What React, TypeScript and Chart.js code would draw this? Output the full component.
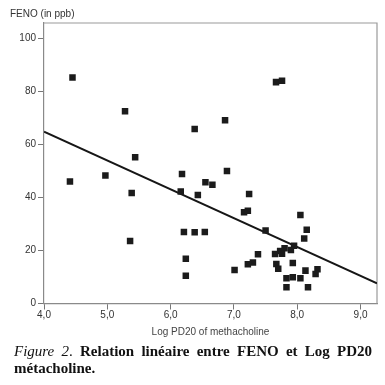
import React, { useEffect, useRef } from "react";
import { Chart, registerables } from "chart.js";

Chart.register(...registerables);

// Scatter data: Log PD20 of methacholine (x) vs FENO in ppb (y)
const pointsX = [
  4.45, 4.41, 4.97, 5.28, 5.44, 5.385, 5.36, 6.18, 6.16, 6.38,
  6.43, 6.55, 6.66, 6.21, 6.38, 6.54, 6.24, 6.24, 6.86, 6.89,
  7.665, 7.76, 7.24, 7.16, 7.22, 7.5, 8.05, 8.15, 8.11, 7.95,
  7.9, 7.8, 7.73, 7.76, 7.65, 7.38, 7.3, 7.22, 7.01, 7.67,
  7.7, 7.93, 7.83, 7.93, 8.05, 8.13, 8.32, 8.29, 7.83, 8.17,
];
const pointsY = [
  85.2, 46.0, 48.3, 72.5, 55.2, 41.7, 23.6, 48.8, 42.2, 65.8,
  40.9, 45.7, 44.8, 27.0, 26.9, 27.0, 16.9, 10.5, 69.1, 50.0,
  83.5, 84.0, 41.3, 34.4, 35.0, 27.5, 33.4, 27.8, 24.5, 21.8,
  20.2, 20.8, 19.8, 18.8, 18.7, 18.6, 15.5, 14.8, 12.6, 14.9,
  13.1, 15.3, 9.5, 9.9, 9.5, 12.4, 12.9, 11.1, 6.1, 6.1,
];

// Regression line end points
const fitX = [4.0, 9.26];
const fitY = [64.8, 7.6];

const xRange = [4.0, 9.26];
const yRange = [0, 105.8];
const xStep = 1;
const yStep = 20;

const yAxisTitle = "FENO (in ppb)";
const xAxisTitle = "Log PD20 of methacholine";

const framePlugin = {
  id: "frameAndTitle",
  beforeDatasetsDraw(chart: any) {
    const { ctx, chartArea } = chart;
    ctx.save();
    ctx.strokeStyle = "#9a9a9a";
    ctx.lineWidth = 1.2;
    ctx.beginPath();
    ctx.moveTo(chartArea.left, chartArea.top);
    ctx.lineTo(chartArea.right, chartArea.top);
    ctx.lineTo(chartArea.right, chartArea.bottom);
    ctx.stroke();
    ctx.restore();
  },
  afterDraw(chart: any) {
    const { ctx, chartArea } = chart;
    ctx.save();
    ctx.fillStyle = "#333";
    ctx.font = "10px 'Liberation Sans', Arial, sans-serif";
    ctx.textAlign = "left";
    ctx.textBaseline = "middle";
    ctx.fillText(yAxisTitle, 10, chartArea.top - 9);
    ctx.restore();
  },
};

export default function App() {
  const ref = useRef<HTMLCanvasElement | null>(null);

  useEffect(() => {
    if (!ref.current) return;
    const fmt = (v: number) => v.toFixed(1).replace(".", ",");
    const chart = new Chart(ref.current, {
      type: "scatter",
      data: {
        datasets: [
          {
            data: pointsX.map((x, i) => ({ x, y: pointsY[i] })),
            pointStyle: "rect",
            pointRadius: 4.6,
            pointBorderWidth: 0,
            borderWidth: 0,
            backgroundColor: "#1b1b1b",
            borderColor: "#1b1b1b",
          },
          {
            data: fitX.map((x, i) => ({ x, y: fitY[i] })),
            showLine: true,
            pointRadius: 0,
            borderColor: "#161616",
            borderWidth: 2,
            fill: false,
          } as any,
        ],
      },
      options: {
        animation: false,
        responsive: false,
        devicePixelRatio: 1,
        layout: { padding: { top: 23, right: 8, left: 0, bottom: 0 } },
        plugins: {
          legend: { display: false },
          tooltip: { enabled: false },
        },
        scales: {
          x: {
            type: "linear",
            min: xRange[0],
            max: xRange[1],
            afterFit: (s: any) => {
              s.height = 41.5;
            },
            ticks: {
              stepSize: xStep,
              includeBounds: false,
              callback: (v: any) => fmt(Number(v)),
              color: "#333",
              font: { family: "'Liberation Sans', Arial, sans-serif", size: 10 },
              padding: 0,
              maxRotation: 0,
            },
            grid: {
              drawOnChartArea: false,
              drawTicks: true,
              tickLength: 6,
              color: "#777",
            },
            border: { display: true, color: "#8a8a8a", width: 1.2 },
            title: {
              display: true,
              text: xAxisTitle,
              color: "#444",
              font: { family: "'Liberation Sans', Arial, sans-serif", size: 10 },
              padding: { top: 0, bottom: 7 },
            },
          },
          y: {
            type: "linear",
            min: yRange[0],
            max: yRange[1],
            afterFit: (s: any) => {
              s.width = 44;
            },
            ticks: {
              stepSize: yStep,
              includeBounds: false,
              color: "#333",
              font: { family: "'Liberation Sans', Arial, sans-serif", size: 10 },
              padding: 2,
            },
            grid: {
              drawOnChartArea: false,
              drawTicks: true,
              tickLength: 6,
              color: "#777",
            },
            border: { display: true, color: "#8a8a8a", width: 1.2 },
          },
        },
      },
      plugins: [framePlugin],
    });
    return () => chart.destroy();
  }, []);

  return (
    <div style={{ position: "absolute", left: 0, top: 0, width: 385, height: 385, background: "#fff" }}>
      <canvas ref={ref} width={385} height={345} style={{ display: "block" }} />
      <div
        style={{
          position: "absolute",
          left: 14,
          top: 343,
          width: 358,
          fontFamily: "'Liberation Serif', 'Times New Roman', serif",
          fontSize: 15,
          lineHeight: "17px",
          textAlign: "justify",
          color: "#111",
        }}
      >
        <span style={{ fontStyle: "italic" }}>Figure 2</span>
        <span>. </span>
        <b>Relation linéaire entre FENO et Log PD20 métacholine.</b>
      </div>
    </div>
  );
}
